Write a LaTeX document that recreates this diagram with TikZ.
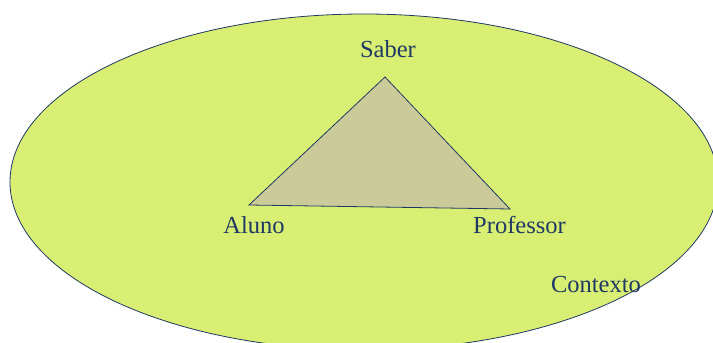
\documentclass[tikz,border=0pt]{standalone}
\usepackage{fontspec}
\setmainfont{Liberation Serif}
\definecolor{ctxfill}{HTML}{D9EF74}
\definecolor{trifill}{HTML}{CBCB9A}
\definecolor{navy}{HTML}{1F3864}
\begin{document}
\begin{tikzpicture}[x=1pt,y=1pt,
  lbl/.style={anchor=base,inner sep=0pt,text=navy,font=\fontsize{24.5}{28}\selectfont},
  edge/.style={draw=navy,line width=0.8pt,line join=miter}]
\useasboundingbox (0,0) rectangle (713,343);
\clip (0,0) rectangle (713,343);
\fill[white] (0,0) rectangle (713,343);
\filldraw[fill=ctxfill,draw=navy,line width=0.8pt] (364,161) ellipse [x radius=354, y radius=168];
\coordinate (S) at (385,266);
\coordinate (A) at (249,138);
\coordinate (P) at (510,134);
\filldraw[edge,fill=trifill] (S) -- (A) -- (P) -- cycle;
\node[lbl] (saber) at (388,285) {Saber};
\node[lbl] (aluno) at (254,109) {Aluno};
\node[lbl] (prof) at (519.5,109) {Professor};
\node[lbl] (ctx) at (596,50) {Contexto};
\end{tikzpicture}
\end{document}
